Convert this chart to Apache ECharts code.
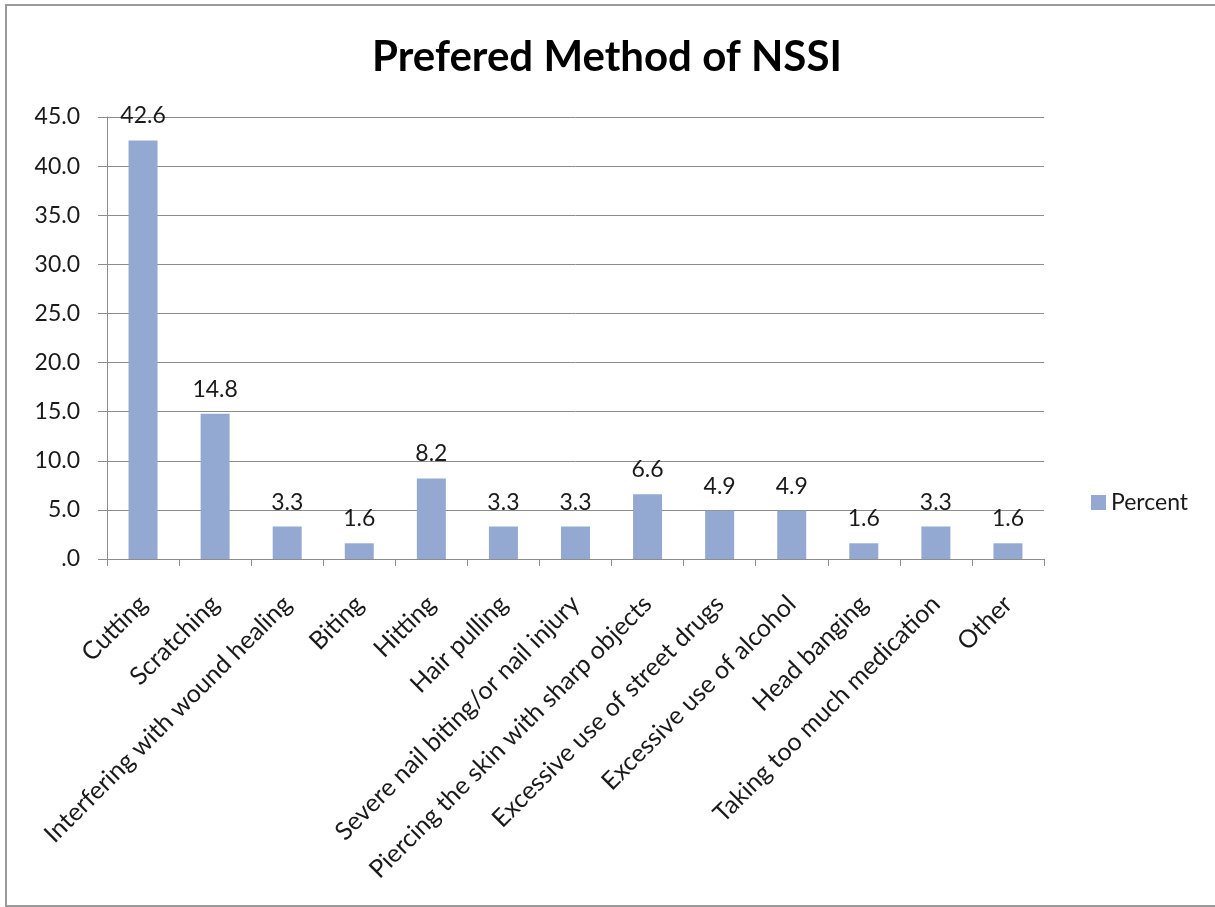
<!DOCTYPE html>
<html>
<head>
<meta charset="utf-8">
<script src="https://cdn.jsdelivr.net/npm/echarts@6/dist/echarts.min.js"></script>
<style>
html,body{margin:0;padding:0;background:#fff;overflow:hidden;}
#frame{position:absolute;left:5px;top:4px;width:1220px;height:903px;border:2px solid #9a9a9a;box-sizing:border-box;}
#chart{position:absolute;left:0;top:0;width:1215px;height:907px;}
</style>
</head>
<body>
<div id="frame"></div>
<div id="chart"></div>
<script>
const titleText = "Prefered Method of NSSI";
const categories = ["Cutting","Scratching","Interfering with wound healing","Biting","Hitting","Hair pulling","Severe nail biting/or nail injury","Piercing the skin with sharp objects","Excessive use of street drugs","Excessive use of alcohol","Head banging","Taking too much medication","Other"];
const percentValues = [42.6,14.8,3.3,1.6,8.2,3.3,3.3,6.6,4.9,4.9,1.6,3.3,1.6];
const seriesName = "Percent";
const yMin = 0, yMax = 45, yInterval = 5;

const FONT = "Lato";
const chart = echarts.init(document.getElementById('chart'));
chart.setOption({
  animation:false,
  backgroundColor:'transparent',
  title:{
    text:titleText, left:602, top:31, textAlign:'center',
    textStyle:{fontFamily:FONT,fontWeight:'bold',fontSize:42,color:'#000'}
  },
  legend:{
    data:[seriesName], left:1086, top:486, itemWidth:15, itemHeight:15, itemGap:7,
    icon:'rect',
    textStyle:{fontFamily:FONT,fontSize:23,color:'#1a1a1a'}
  },
  grid:{left:107,right:171,top:117,bottom:348,containLabel:false},
  xAxis:{
    type:'category', data:categories,
    axisLine:{lineStyle:{color:'#8c8c8c',width:1}},
    axisTick:{show:true,length:7,lineStyle:{color:'#8c8c8c'}},
    axisLabel:{rotate:45,interval:0,margin:41,fontFamily:FONT,fontSize:25,color:'#1a1a1a'}
  },
  yAxis:{
    type:'value', min:yMin, max:yMax, interval:yInterval,
    axisLine:{show:true,lineStyle:{color:'#8c8c8c'}},
    axisTick:{show:true,length:9,lineStyle:{color:'#8c8c8c'}},
    splitLine:{lineStyle:{color:'#8c8c8c',width:1}},
    axisLabel:{margin:27,fontFamily:FONT,fontSize:23,color:'#1a1a1a',
      formatter:function(v){return v===0?'.0':v.toFixed(1);}}
  },
  series:[{
    name:seriesName, type:'bar', data:percentValues,
    barWidth:29,
    itemStyle:{color:'#94a9d1'},
    label:{show:true,position:'top',distance:13,fontFamily:FONT,fontSize:23,color:'#1a1a1a',
      formatter:function(p){return p.value.toFixed(1);}}
  }]
});
</script>
</body>
</html>
